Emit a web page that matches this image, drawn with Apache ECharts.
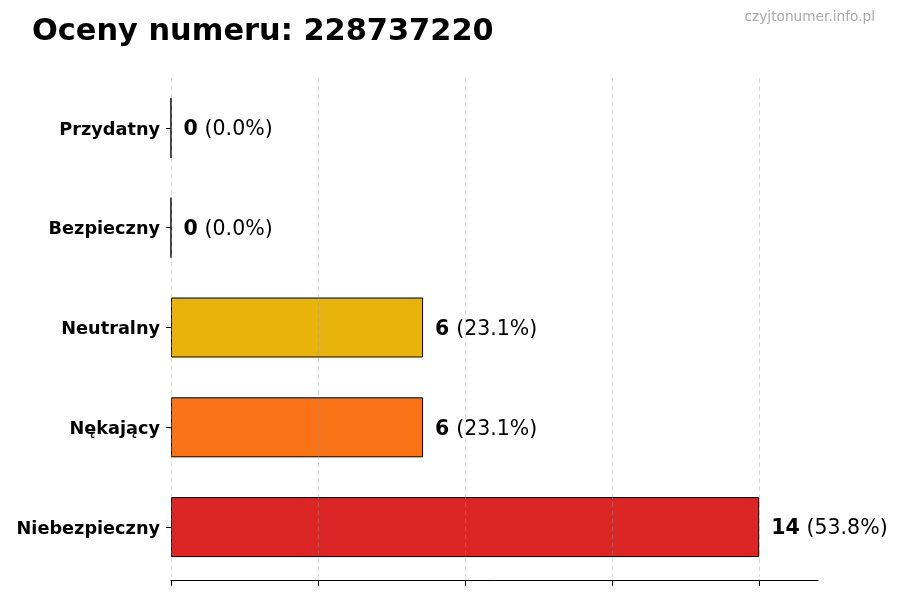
<!DOCTYPE html>
<html>
<head>
<meta charset="utf-8">
<script src="https://cdn.jsdelivr.net/npm/echarts@6/dist/echarts.min.js"></script>
<style>
  html, body { margin: 0; padding: 0; background: #fff; }
  #chart { width: 900px; height: 600px; }
</style>
</head>
<body>
<div id="chart"></div>
<script>
const categories = ["Przydatny", "Bezpieczny", "Neutralny", "Nękający", "Niebezpieczny"];
const counts = [0, 0, 6, 6, 14];
const barColors = ["#2a9d3f", "#2f6fd6", "#e8b30b", "#f97316", "#dc2626"];
const xTicks = [0, 3.5, 7, 10.5, 14];
const phoneNumber = "228737220";

const total = counts.reduce((a, b) => a + b, 0);

const chart = echarts.init(document.getElementById("chart"));

chart.setOption({
  animation: false,
  textStyle: { fontFamily: "DejaVu Sans" },
  title: [
    {
      text: "Oceny numeru: " + phoneNumber,
      left: 27,
      top: 12,
      textStyle: { fontSize: 30.4, fontWeight: "bold", color: "#000", fontFamily: "DejaVu Sans" },
    },
    {
      text: "czyjtonumer.info.pl",
      right: 20,
      top: 5,
      textStyle: { fontSize: 13.7, fontWeight: "normal", color: "#aaaaaa", fontFamily: "DejaVu Sans" },
    },
  ],
  grid: { left: 171, right: 82, top: 78, bottom: 23 },
  xAxis: {
    type: "value",
    min: 0,
    max: 15.4,
    offset: 3,
    z: 3,
    axisLine: { show: true, lineStyle: { color: "#000", width: 1 } },
    axisTick: { show: true, length: 6, customValues: xTicks, lineStyle: { color: "#000" } },
    axisLabel: { show: false, customValues: xTicks },
    splitLine: {
      show: true,
      lineStyle: { color: "rgba(150,150,150,0.35)", type: [5, 3], width: 1 },
    },
  },
  yAxis: {
    type: "category",
    data: categories,
    inverse: true,
    axisLine: { show: false },
    axisTick: { show: true, alignWithLabel: true, length: 5, lineStyle: { color: "#000" } },
    axisLabel: {
      margin: 11,
      formatter: (v) => "{c|" + v + "}",
      rich: {
        c: { fontSize: 17.7, fontWeight: "bold", color: "#000", fontFamily: "DejaVu Sans", padding: [4, 0, 0, 0] },
      },
    },
    splitLine: { show: false },
  },
  series: [
    {
      type: "bar",
      barWidth: 60,
      data: counts.map((v, i) => ({
        value: v,
        itemStyle: { color: barColors[i] },
      })),
      itemStyle: { borderColor: "#000", borderWidth: 1 },
      label: {
        show: true,
        position: "right",
        distance: 12,
        offset: [0, 2],
        formatter: (p) =>
          "{b|" + p.value + "} {n|(" + ((p.value / total) * 100).toFixed(1) + "%)}",
        rich: {
          b: { fontSize: 20.5, fontWeight: "bold", color: "#000", fontFamily: "DejaVu Sans" },
          n: { fontSize: 20.5, color: "#000", fontFamily: "DejaVu Sans", padding: [0, 0, 0, 3] },
        },
      },
    },
  ],
});
</script>
</body>
</html>
